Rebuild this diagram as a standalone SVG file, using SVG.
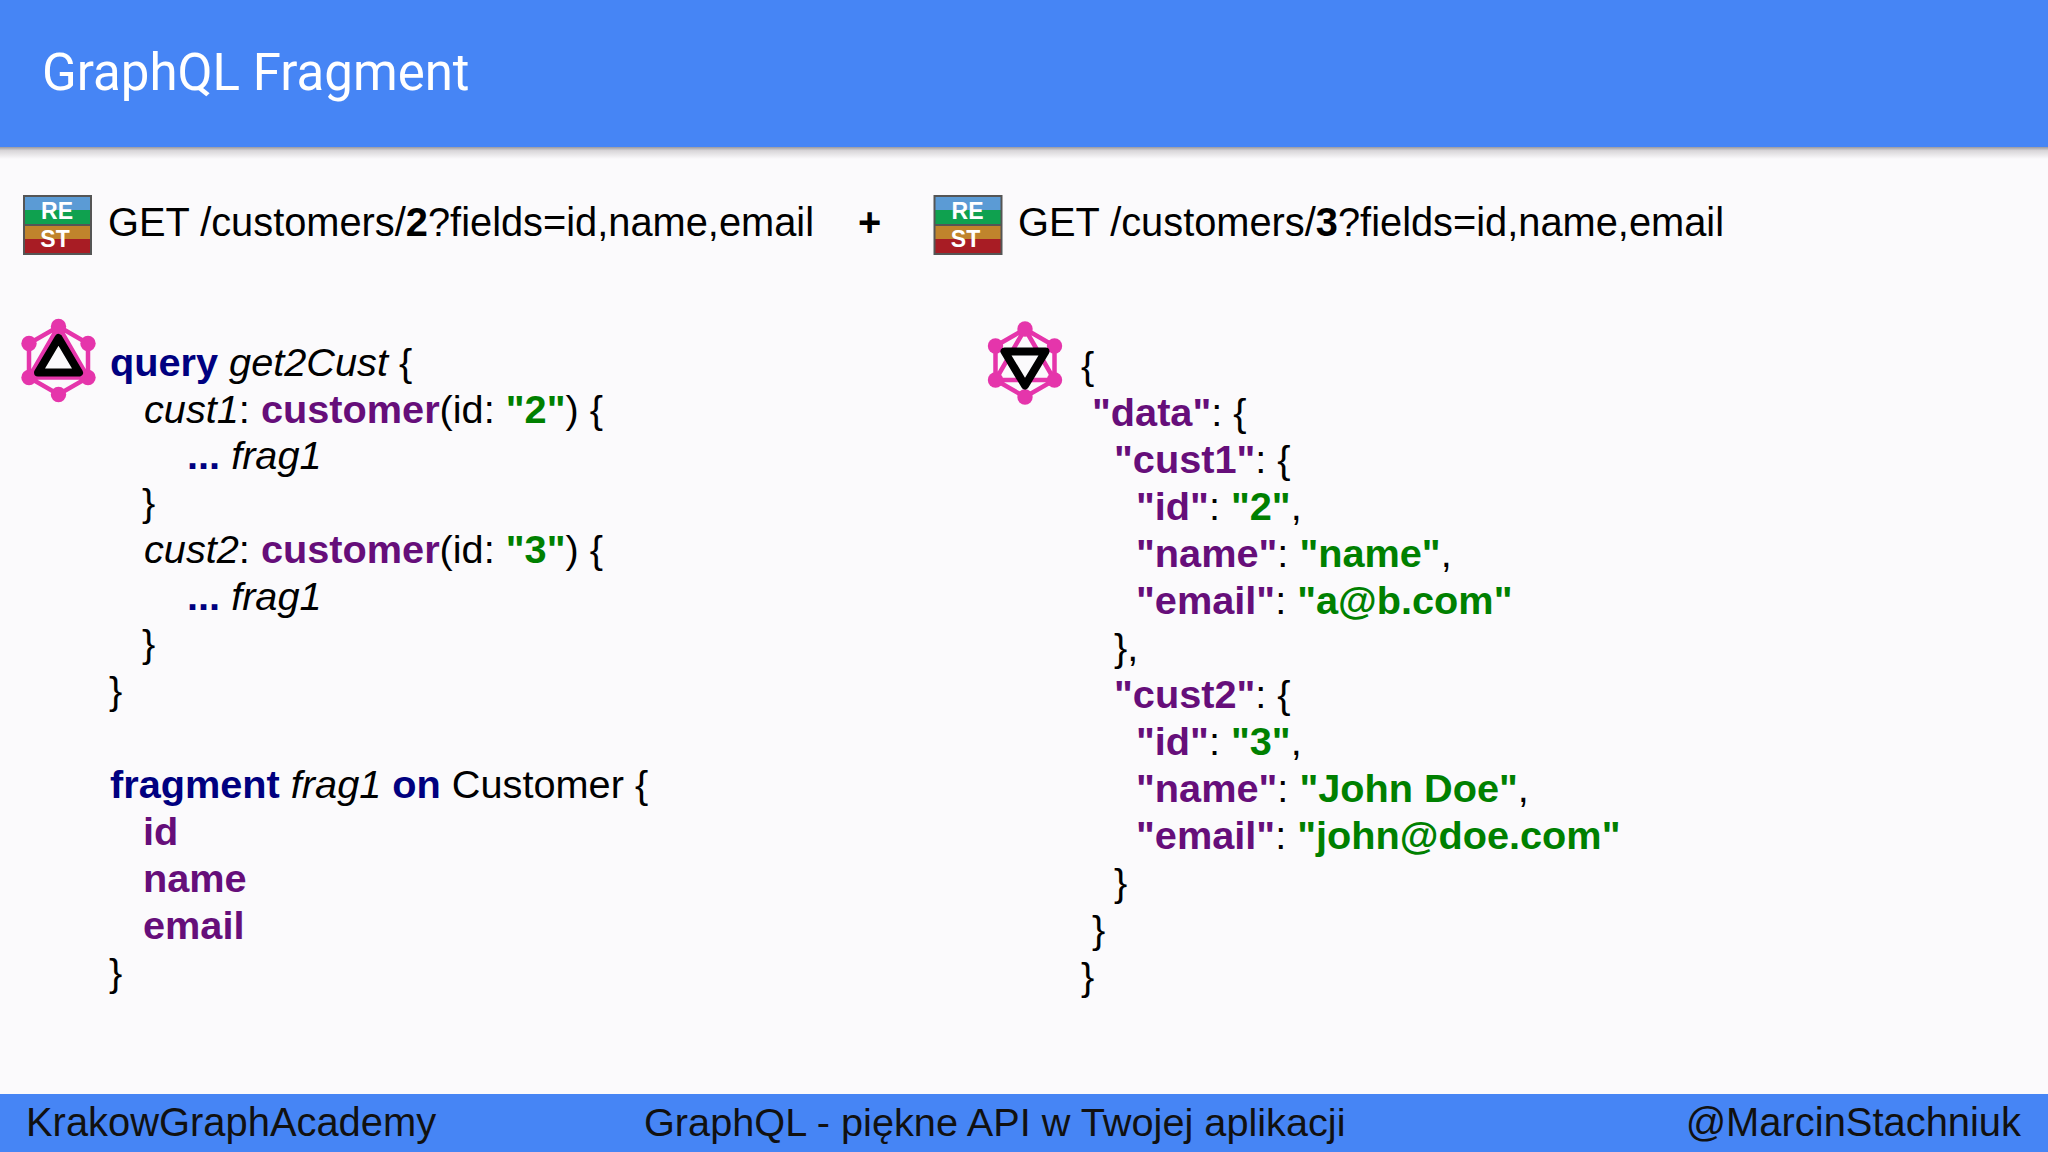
<svg xmlns="http://www.w3.org/2000/svg" width="2048" height="1152" viewBox="0 0 2048 1152">
<defs>
<linearGradient id="sh" x1="0" y1="0" x2="0" y2="1"><stop offset="0" stop-color="#9a9aa0"/><stop offset="0.3" stop-color="#d8d5d8"/><stop offset="1" stop-color="#fbfafc"/></linearGradient>
<g id="rest">
<rect x="0" y="0" width="69" height="60" fill="#555"/>
<rect x="2" y="2" width="65" height="13" fill="#5b9bd5"/>
<rect x="2" y="15" width="65" height="14" fill="#0fa14f"/>
<rect x="2" y="31" width="65" height="13" fill="#c0842c"/>
<rect x="2" y="44" width="65" height="14" fill="#a81c24"/>
<text class="rt" x="34" y="24" text-anchor="middle">RE</text>
<text class="rt" x="32" y="52" text-anchor="middle">ST</text>
</g>
<g id="hex">
<path d="M0-34 L29.500-17 V17 L0 34 L-29.500 17 V-17Z M0-34 L29.500 17 H-29.500Z" fill="none" stroke="#e535ab" stroke-width="4.500"/>
<circle cx="0" cy="-34" r="7.700" fill="#e535ab"/><circle cx="29.500" cy="-17" r="7.700" fill="#e535ab"/><circle cx="29.500" cy="17" r="7.700" fill="#e535ab"/><circle cx="0" cy="34" r="7.700" fill="#e535ab"/><circle cx="-29.500" cy="17" r="7.700" fill="#e535ab"/><circle cx="-29.500" cy="-17" r="7.700" fill="#e535ab"/>
</g>
</defs>
<style>
text{font-family:"Liberation Sans",Arial,sans-serif;fill:#000}
.t{font-family:Roboto,"Liberation Sans",sans-serif;font-size:51px;fill:#fff}
.g{font-size:39.800px}
.c{font-size:39.700px}
.f{font-size:39.900px;fill:#111}
.m{font-size:39.700px}
.rt{font-size:23px;font-weight:700;fill:#fff}
.k{font-weight:700;fill:#000080}
.p{font-weight:700;fill:#660e7a}
.s{font-weight:700;fill:#008000}
.i{font-style:italic}
.b{font-weight:700}
</style>
<rect width="2048" height="1152" fill="#fbfafc"/>
<g id="header">
<rect width="2048" height="147" fill="#4685f5"/>
<rect y="147" width="2048" height="12" fill="url(#sh)"/>
<text class="t" x="42" y="89.500">GraphQL Fragment</text>
</g>
<g id="rest-left">
<use href="#rest" x="23" y="195"/>
<text class="g" x="108" y="236">GET /customers/<tspan class="b">2</tspan>?fields=id,name,email</text>
</g>
<text class="g b" x="858" y="236">+</text>
<g id="rest-right">
<use href="#rest" x="933.500" y="195"/>
<text class="g" x="1018" y="236">GET /customers/<tspan class="b">3</tspan>?fields=id,name,email</text>
</g>
<g id="query-icon">
<use href="#hex" x="58.500" y="360.500"/>
<path d="M58.500 338 L79 372.500 H38Z" fill="#fbfafc" stroke="#000" stroke-width="8" stroke-linejoin="round"/>
</g>
<g id="query" class="c">
<text x="110" y="376"><tspan class="k">query</tspan> <tspan class="i">get2Cust</tspan> {</text>
<text x="144" y="423"><tspan class="i">cust1</tspan>: <tspan class="p">customer</tspan>(id: <tspan class="s">"2"</tspan>) {</text>
<text x="187" y="469"><tspan class="k">...</tspan> <tspan class="i">frag1</tspan></text>
<text x="142" y="516">}</text>
<text x="144" y="563"><tspan class="i">cust2</tspan>: <tspan class="p">customer</tspan>(id: <tspan class="s">"3"</tspan>) {</text>
<text x="187" y="610"><tspan class="k">...</tspan> <tspan class="i">frag1</tspan></text>
<text x="142" y="657">}</text>
<text x="109" y="704">}</text>
<text x="110" y="798"><tspan class="k">fragment</tspan> <tspan class="i">frag1</tspan> <tspan class="k">on</tspan> Customer {</text>
<text x="143" y="845" class="p">id</text>
<text x="143" y="892" class="p">name</text>
<text x="143" y="939" class="p">email</text>
<text x="109" y="986">}</text>
</g>
<g id="response-icon">
<use href="#hex" x="1025" y="363"/>
<path d="M1025 385.500 L1004.500 351.500 H1045.500Z" fill="#fbfafc" stroke="#000" stroke-width="8" stroke-linejoin="round"/>
</g>
<g id="response" class="c">
<text x="1081" y="379">{</text>
<text x="1092" y="426"><tspan class="p">"data"</tspan>: {</text>
<text x="1114" y="473"><tspan class="p">"cust1"</tspan>: {</text>
<text x="1136" y="520"><tspan class="p">"id"</tspan>: <tspan class="s">"2"</tspan>,</text>
<text x="1136" y="567"><tspan class="p">"name"</tspan>: <tspan class="s">"name"</tspan>,</text>
<text x="1136" y="614"><tspan class="p">"email"</tspan>: <tspan class="s">"a@b.com"</tspan></text>
<text x="1114" y="661">},</text>
<text x="1114" y="708"><tspan class="p">"cust2"</tspan>: {</text>
<text x="1136" y="755"><tspan class="p">"id"</tspan>: <tspan class="s">"3"</tspan>,</text>
<text x="1136" y="802"><tspan class="p">"name"</tspan>: <tspan class="s">"John Doe"</tspan>,</text>
<text x="1136" y="849"><tspan class="p">"email"</tspan>: <tspan class="s">"john@doe.com"</tspan></text>
<text x="1114" y="896">}</text>
<text x="1092" y="943">}</text>
<text x="1081" y="990">}</text>
</g>
<g id="footer">
<rect y="1094" width="2048" height="58" fill="#4685f5"/>
<text class="f" x="26" y="1136">KrakowGraphAcademy</text>
<text class="f m" x="644" y="1136">GraphQL - piękne API w Twojej aplikacji</text>
<text class="f" x="2021" y="1136" text-anchor="end">@MarcinStachniuk</text>
</g>
</svg>
